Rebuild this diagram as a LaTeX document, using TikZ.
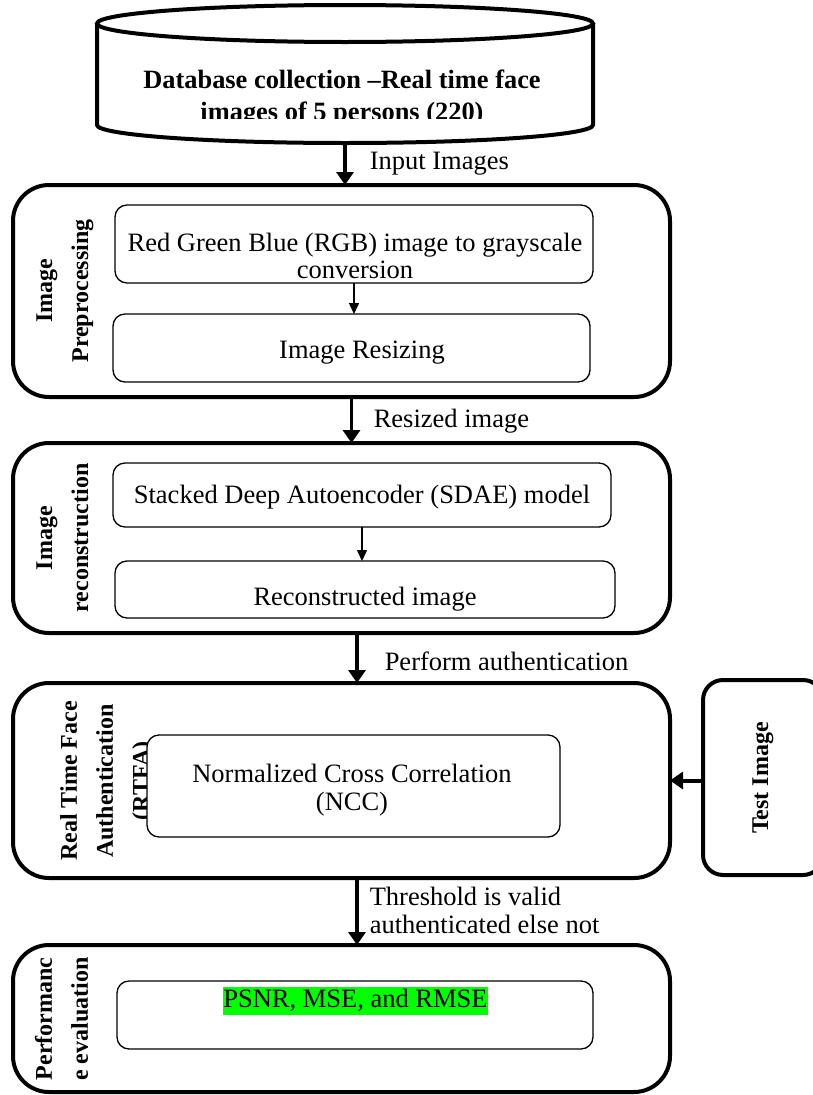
\documentclass[tikz,border=0pt]{standalone}
\usepackage{fontspec}
\setmainfont{Liberation Serif}
\newfontfamily\sidefont{Liberation Serif}
\usetikzlibrary{calc,arrows.meta}

\begin{document}
\begin{tikzpicture}[x=1pt,y=-1pt,
  outerbox/.style={draw,line width=4pt,rounded corners=36pt,inner sep=0pt,outer sep=0pt},
  innerbox/.style={draw,line width=1.3pt,rounded corners=12pt,inner sep=0pt,outer sep=0pt,fill=white,font=\fontsize{26.5}{28}\selectfont,align=center},
  sidelabel/.style={rotate=90,align=center,inner sep=0pt,font=\sidefont\bfseries\fontsize{24}{36}\selectfont},
  bodytext/.style={inner sep=0pt,font=\fontsize{26.5}{28}\selectfont},
  bigarrow/.style={line width=3.5pt,-{Triangle[length=13pt,width=17pt]}},
  smallarrow/.style={line width=1.5pt,-{Triangle[length=11pt,width=10pt]}},
  arrowlabel/.style={bodytext,anchor=west,align=left}
]
\useasboundingbox (0,0) rectangle (812,1095);

% Database cylinder
\coordinate (db) at (345,143);
\draw[line width=4pt] (97,24) -- (97,125) arc[start angle=180,end angle=0,x radius=248,y radius=18] -- (593,24);
\draw[line width=4pt] (345,23.5) ellipse[x radius=248,y radius=18.5];
\begin{scope}
  \clip (99,45) rectangle (591,118);
  \node[align=center,inner sep=0pt,font=\bfseries\fontsize{26.4}{32}\selectfont] (dbtext) at (342,98)
    {Database collection –Real time face\\images of 5 persons (220)};
\end{scope}

% Image preprocessing
\node[outerbox,minimum width=657pt,minimum height=212pt] (prep) at (341.5,291) {};
\node[sidelabel] (preplab) at (65,291) {Image\\Preprocessing};
\node[innerbox,minimum width=478pt,minimum height=78pt] (rgb) at (354,244) {};
\node[bodytext,align=center,font=\fontsize{26.5}{27}\selectfont] (rgbtext) at (355,255.5) {Red Green Blue (RGB) image to grayscale\\conversion};
\node[innerbox,minimum width=477pt,minimum height=68pt] (resize) at (351.5,348) {};
\node[bodytext] (resizetext) at (362,353) {Image Resizing};
\draw[smallarrow] (rgb.south) -- (rgb.south |- resize.north);

% Image reconstruction
\node[outerbox,minimum width=657pt,minimum height=190pt] (recon) at (341.5,538) {};
\node[sidelabel] (reconlab) at (62.5,538) {Image\\reconstruction};
\node[innerbox,minimum width=498pt,minimum height=64pt] (sdae) at (362,495) {};
\node[bodytext] (sdaetext) at (362,497) {Stacked Deep Autoencoder (SDAE) model};
\node[innerbox,minimum width=500pt,minimum height=57pt] (recimg) at (365,589.5) {};
\node[bodytext] (recimgtext) at (365,599) {Reconstructed image};
\draw[smallarrow] (sdae.south) -- (sdae.south |- recimg.north);

% Authentication
\node[outerbox,minimum width=657pt,minimum height=195pt] (auth) at (341.5,780.5) {};
\node[sidelabel] (authlab) at (107,781) {Real Time Face\\Authentication\\(RTFA)};
\node[innerbox,minimum width=413pt,minimum height=102pt] (ncc) at (353.5,786) {};
\node[bodytext,align=center] (ncctext) at (352,790) {Normalized Cross Correlation\\(NCC)};
\node[outerbox,rounded corners=20pt,minimum width=120pt,minimum height=195pt] (test) at (763,777.5) {};
\node[sidelabel] (testlab) at (763,778) {Test Image};
\draw[bigarrow,line width=4pt] (test.west |- auth.east) -- (auth.east);

% Performance evaluation
\node[outerbox,minimum width=657pt,minimum height=147pt] (perf) at (341.5,1018.5) {};
\node[sidelabel] (perflab) at (61.5,1019) {Performanc\\e evaluation};
\node[innerbox,minimum width=476pt,minimum height=68pt] (psnr) at (355,1015) {};
\node[bodytext,fill=green,text height=20pt,text depth=8pt] (psnrtext) at (355.5,1001) {PSNR, MSE, and RMSE};

% Flow arrows
\draw[bigarrow] (db) -- (db |- prep.north)
  node[arrowlabel,midway,xshift=23pt] {Input Images};
\draw[bigarrow] ([xshift=10pt]prep.south) -- ([xshift=10pt]recon.north)
  node[arrowlabel,midway,xshift=20.5pt,yshift=-1pt] {Resized image};
\draw[bigarrow] ([xshift=15.5pt]recon.south) -- ([xshift=15.5pt]auth.north)
  node[arrowlabel,midway,xshift=26pt,yshift=-3pt] {Perform authentication};
\draw[bigarrow] ([xshift=15.5pt]auth.south) -- ([xshift=15.5pt]perf.north)
  node[arrowlabel,midway,xshift=11pt,yshift=1.5pt] {Threshold is valid\\authenticated else not};

\end{tikzpicture}
\end{document}
